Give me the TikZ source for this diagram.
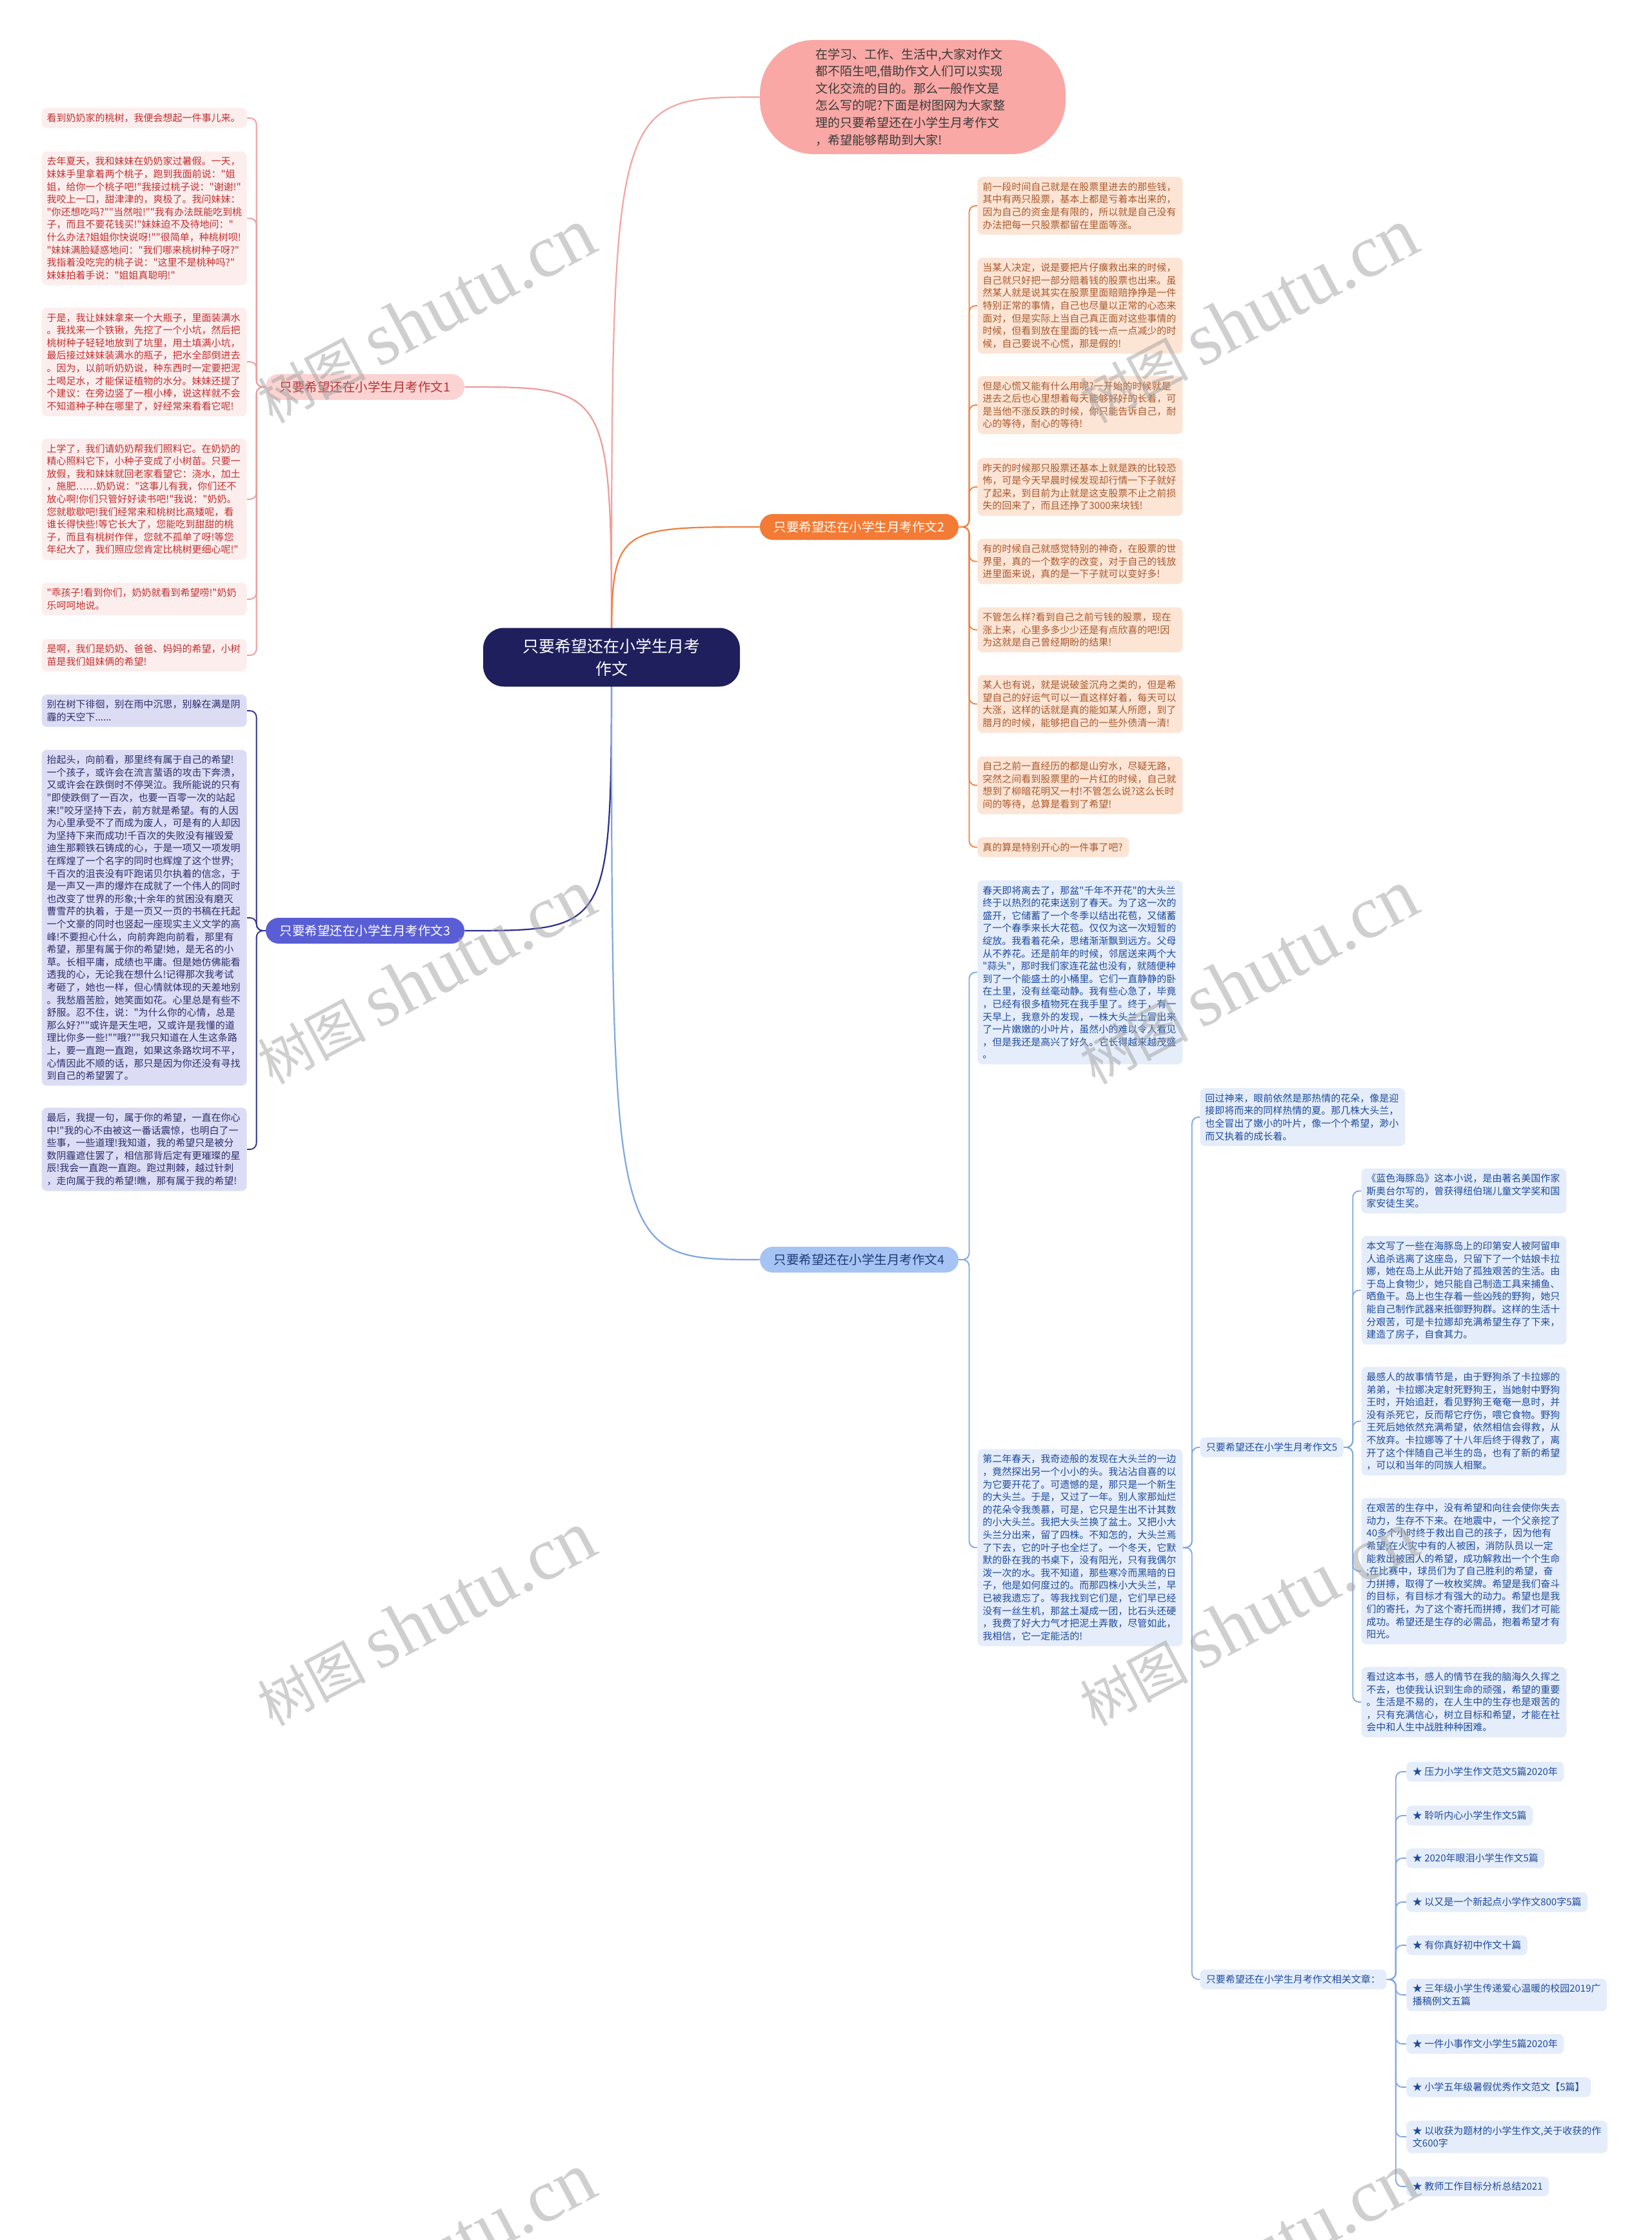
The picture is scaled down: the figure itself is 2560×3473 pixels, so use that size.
\documentclass[tikz,border=0pt]{standalone}
\usepackage{fontspec}
\setmainfont{Noto Sans CJK SC}[Ligatures=TeXOff]
\newfontfamily\wmlatin{Liberation Serif}[Ligatures=TeXOff]
\usetikzlibrary{calc}
\definecolor{rootc}{HTML}{1E1F5C}
\definecolor{introc}{HTML}{F9A8A5}
\definecolor{introtext}{HTML}{3A3A3A}
\definecolor{introline}{HTML}{F4A4A1}
\definecolor{b1fill}{HTML}{FAD3D2}
\definecolor{b1text}{HTML}{B83232}
\definecolor{b1line}{HTML}{EE9B98}
\definecolor{l1fill}{HTML}{FDEEEE}
\definecolor{l1text}{HTML}{C0302E}
\definecolor{b2fill}{HTML}{F47B35}
\definecolor{b2line}{HTML}{EF7F3E}
\definecolor{l2fill}{HTML}{FDE5D6}
\definecolor{l2text}{HTML}{A8592C}
\definecolor{b3fill}{HTML}{5A5ED4}
\definecolor{b3line}{HTML}{2C2E8C}
\definecolor{l3fill}{HTML}{DCDDF5}
\definecolor{l3text}{HTML}{2B2D6B}
\definecolor{b4fill}{HTML}{A6C4F3}
\definecolor{b4text}{HTML}{1D3C78}
\definecolor{b4line}{HTML}{7FA6E2}
\definecolor{l4fill}{HTML}{E5EDFB}
\definecolor{l4text}{HTML}{1E4B9C}
\definecolor{wm}{HTML}{A0A0A0}
\begin{document}
\begin{tikzpicture}[x=0.5pt,y=-0.5pt,
 leaf/.style={rounded corners=4pt,inner xsep=4pt,inner ysep=4.2pt,text width=151pt,align=left,font=\fontsize{7.5}{9.8}\selectfont},
 lpink/.style={leaf,fill=l1fill,text=l1text,anchor=east},
 lorange/.style={leaf,fill=l2fill,text=l2text,anchor=west},
 lviolet/.style={leaf,fill=l3fill,text=l3text,anchor=east},
 lblue/.style={leaf,fill=l4fill,text=l4text,anchor=west},
 tag/.style={rounded corners=4pt,inner xsep=4.75pt,inner ysep=4.2pt,align=left,fill=l4fill,text=l4text,anchor=west,font=\fontsize{7.5}{9.8}\selectfont},
 branch/.style={rounded corners=10pt,minimum width=154pt,minimum height=20pt,inner sep=0pt,font=\fontsize{9.75}{12}\selectfont},
 main/.style={line width=1.1pt},
 twig/.style={line width=0.9pt,rounded corners=5pt},
 wmark/.style={text=wm,text opacity=0.5,rotate=28,font=\fontsize{42}{42}\selectfont}
]
\useasboundingbox (0,0) rectangle (2560,3473);
\fill[white] (0,0) rectangle (2560,3473);

% ---------- intro and branches ----------
\node[fill=introc,text=introtext,rounded corners=42pt,minimum width=237pt,minimum height=88.5pt,text width=151pt,align=left,font=\fontsize{9.5}{13.3}\selectfont] (intro) at (1415,150.5) {在学习、工作、生活中,大家对作文\\都不陌生吧,借助作文人们可以实现\\文化交流的目的。那么一般作文是\\怎么写的呢?下面是树图网为大家整\\理的只要希望还在小学生月考作文\\，希望能够帮助到大家!};
\node[branch,fill=b1fill,text=b1text] (b1) at (566,600) {只要希望还在小学生月考作文1};
\node[branch,fill=b2fill,text=white] (b2) at (1332,817) {只要希望还在小学生月考作文2};
\node[branch,fill=b3fill,text=white] (b3) at (566,1443) {只要希望还在小学生月考作文3};
\node[branch,fill=b4fill,text=b4text] (b4) at (1332,1953) {只要希望还在小学生月考作文4};

\coordinate (rc) at (948,1019);
\draw[main,introline] (rc) .. controls (rc |- intro.west) .. (intro.west);
\draw[main,b1line] (rc) .. controls (rc |- b1.east) .. (b1.east);
\draw[main,b2line] (rc) .. controls (rc |- b2.west) .. (b2.west);
\draw[main,b3line] (rc) .. controls (rc |- b3.east) .. (b3.east);
\draw[main,b4line] (rc) .. controls (rc |- b4.west) .. (b4.west);
\node[fill=rootc,text=white,rounded corners=16pt,minimum width=199pt,minimum height=45.5pt,align=center,font=\fontsize{12.5}{17.5}\selectfont] (root) at (rc) {只要希望还在小学生月考\\作文};

% ---------- branch 1 ----------
\node[lpink] (l1a) at (383,183) {看到奶奶家的桃树，我便会想起一件事儿来。};
\node[lpink] (l1b) at (383,338.5) {去年夏天，我和妹妹在奶奶家过暑假。一天，\\妹妹手里拿着两个桃子，跑到我面前说："姐\\姐，给你一个桃子吧!"我接过桃子说："谢谢!"\\我咬上一口，甜津津的，爽极了。我问妹妹：\\"你还想吃吗?""当然啦!""我有办法既能吃到桃\\子，而且不要花钱买!"妹妹迫不及待地问："\\什么办法?姐姐你快说呀!""很简单，种桃树呗!\\"妹妹满脸疑惑地问："我们哪来桃树种子呀?"\\我指着没吃完的桃子说："这里不是桃种吗?"\\妹妹拍着手说："姐姐真聪明!"};
\node[lpink] (l1c) at (383,561) {于是，我让妹妹拿来一个大瓶子，里面装满水\\。我找来一个铁锹，先挖了一个小坑，然后把\\桃树种子轻轻地放到了坑里，用土填满小坑，\\最后接过妹妹装满水的瓶子，把水全部倒进去\\。因为，以前听奶奶说，种东西时一定要把泥\\土喝足水，才能保证植物的水分。妹妹还提了\\个建议：在旁边竖了一根小棒，说这样就不会\\不知道种子种在哪里了，好经常来看看它呢!};
\node[lpink] (l1d) at (383,774) {上学了，我们请奶奶帮我们照料它。在奶奶的\\精心照料它下，小种子变成了小树苗。只要一\\放假，我和妹妹就回老家看望它：浇水，加土\\，施肥……奶奶说："这事儿有我，你们还不\\放心啊!你们只管好好读书吧!"我说："奶奶。\\您就歇歇吧!我们经常来和桃树比高矮呢，看\\谁长得快些!等它长大了，您能吃到甜甜的桃\\子，而且有桃树作伴，您就不孤单了呀!等您\\年纪大了，我们照应您肯定比桃树更细心呢!"};
\node[lpink] (l1e) at (383,929) {"乖孩子!看到你们，奶奶就看到希望唠!"奶奶\\乐呵呵地说。};
\node[lpink] (l1f) at (383,1016) {是啊，我们是奶奶、爸爸、妈妈的希望，小树\\苗是我们姐妹俩的希望!};
\foreach \n in {l1a,l1b,l1c,l1d,l1e,l1f} \draw[twig,b1line] (b1.west) -- ++(-14,0) |- (\n.east);

% ---------- branch 3 ----------
\node[lviolet] (l3a) at (383,1102) {别在树下徘徊，别在雨中沉思，别躲在满是阴\\霾的天空下......};
\node[lviolet] (l3b) at (383,1423) {抬起头，向前看，那里终有属于自己的希望!\\一个孩子，或许会在流言蜚语的攻击下奔溃，\\又或许会在跌倒时不停哭泣。我所能说的只有\\"即使跌倒了一百次，也要一百零一次的站起\\来!"咬牙坚持下去，前方就是希望。有的人因\\为心里承受不了而成为废人，可是有的人却因\\为坚持下来而成功!千百次的失败没有摧毁爱\\迪生那颗铁石铸成的心，于是一项又一项发明\\在辉煌了一个名字的同时也辉煌了这个世界;\\千百次的沮丧没有吓跑诺贝尔执着的信念，于\\是一声又一声的爆炸在成就了一个伟人的同时\\也改变了世界的形象;十余年的贫困没有磨灭\\曹雪芹的执着，于是一页又一页的书稿在托起\\一个文豪的同时也竖起一座现实主义文学的高\\峰!不要担心什么，向前奔跑向前看，那里有\\希望，那里有属于你的希望!她，是无名的小\\草。长相平庸，成绩也平庸。但是她仿佛能看\\透我的心，无论我在想什么!记得那次我考试\\考砸了，她也一样，但心情就体现的天差地别\\。我愁眉苦脸，她笑面如花。心里总是有些不\\舒服。忍不住，说："为什么你的心情，总是\\那么好?""或许是天生吧，又或许是我懂的道\\理比你多一些!""哦?""我只知道在人生这条路\\上，要一直跑一直跑，如果这条路坎坷不平，\\心情因此不顺的话，那只是因为你还没有寻找\\到自己的希望罢了。};
\node[lviolet] (l3c) at (383,1782) {最后，我提一句，属于你的希望，一直在你心\\中!"我的心不由被这一番话震惊，也明白了一\\些事，一些道理!我知道，我的希望只是被分\\数阴霾遮住罢了，相信那背后定有更璀璨的星\\辰!我会一直跑一直跑。跑过荆棘，越过针刺\\，走向属于我的希望!瞧，那有属于我的希望!};
\foreach \n in {l3a,l3b,l3c} \draw[twig,b3line] (b3.west) -- ++(-14,0) |- (\n.east);

% ---------- branch 2 ----------
\node[lorange] (l2a) at (1515,319) {前一段时间自己就是在股票里进去的那些钱，\\其中有两只股票，基本上都是亏着本出来的，\\因为自己的资金是有限的，所以就是自己没有\\办法把每一只股票都留在里面等涨。};
\node[lorange] (l2b) at (1515,474) {当某人决定，说是要把片仔癀救出来的时候，\\自己就只好把一部分赔着钱的股票也出来。虽\\然某人就是说其实在股票里面赔赔挣挣是一件\\特别正常的事情，自己也尽量以正常的心态来\\面对，但是实际上当自己真正面对这些事情的\\时候，但看到放在里面的钱一点一点减少的时\\候，自己要说不心慌，那是假的!};
\node[lorange] (l2c) at (1515,628) {但是心慌又能有什么用呢?一开始的时候就是\\进去之后也心里想着每天能够好好的长着，可\\是当他不涨反跌的时候，你只能告诉自己，耐\\心的等待，耐心的等待!};
\node[lorange] (l2d) at (1515,755) {昨天的时候那只股票还基本上就是跌的比较恐\\怖，可是今天早晨时候发现却行情一下子就好\\了起来，到目前为止就是这支股票不止之前损\\失的回来了，而且还挣了3000来块钱!};
\node[lorange] (l2e) at (1515,870.5) {有的时候自己就感觉特别的神奇，在股票的世\\界里，真的一个数字的改变，对于自己的钱放\\进里面来说，真的是一下子就可以变好多!};
\node[lorange] (l2f) at (1515,976.5) {不管怎么样?看到自己之前亏钱的股票，现在\\涨上来，心里多多少少还是有点欣喜的吧!因\\为这就是自己曾经期盼的结果!};
\node[lorange] (l2g) at (1515,1091.5) {某人也有说，就是说破釜沉舟之类的，但是希\\望自己的好运气可以一直这样好着，每天可以\\大涨，这样的话就是真的能如某人所愿，到了\\腊月的时候，能够把自己的一些外债清一清!};
\node[lorange] (l2h) at (1515,1217.5) {自己之前一直经历的都是山穷水，尽疑无路，\\突然之间看到股票里的一片红的时候，自己就\\想到了柳暗花明又一村!不管怎么说?这么长时\\间的等待，总算是看到了希望!};
\node[lorange,text width=109.5pt] (l2i) at (1515,1313.5) {真的算是特别开心的一件事了吧?};
\foreach \n in {l2a,l2b,l2c,l2d,l2e,l2f,l2g,l2h,l2i} \draw[twig,b2line] (b2.east) -- ++(16,0) |- (\n.west);

% ---------- branch 4 ----------
\node[lblue] (l4a) at (1515,1507.5) {春天即将离去了，那盆"千年不开花"的大头兰\\终于以热烈的花束送别了春天。为了这一次的\\盛开，它储蓄了一个冬季以结出花苞，又储蓄\\了一个春季来长大花苞。仅仅为这一次短暂的\\绽放。我看着花朵，思绪渐渐飘到远方。父母\\从不养花。还是前年的时候，邻居送来两个大\\"蒜头"，那时我们家连花盆也没有，就随便种\\到了一个能盛土的小桶里。它们一直静静的卧\\在土里，没有丝毫动静。我有些心急了，毕竟\\，已经有很多植物死在我手里了。终于，有一\\天早上，我意外的发现，一株大头兰上冒出来\\了一片嫩嫩的小叶片，虽然小的难以令人看见\\，但是我还是高兴了好久。它长得越来越茂盛\\。};
\node[lblue] (l4b) at (1515,2399.5) {第二年春天，我奇迹般的发现在大头兰的一边\\，竟然探出另一个小小的头。我沾沾自喜的以\\为它要开花了。可遗憾的是，那只是一个新生\\的大头兰。于是，又过了一年。别人家那灿烂\\的花朵令我羡慕，可是，它只是生出不计其数\\的小大头兰。我把大头兰换了盆土。又把小大\\头兰分出来，留了四株。不知怎的，大头兰焉\\了下去，它的叶子也全烂了。一个冬天，它默\\默的卧在我的书桌下，没有阳光，只有我偶尔\\泼一次的水。我不知道，那些寒冷而黑暗的日\\子，他是如何度过的。而那四株小大头兰，早\\已被我遗忘了。等我找到它们是，它们早已经\\没有一丝生机，那盆土凝成一团，比石头还硬\\，我费了好大力气才把泥土弄散，尽管如此，\\我相信，它一定能活的!};
\foreach \n in {l4a,l4b} \draw[twig,b4line] (b4.east) -- ++(16,0) |- (\n.west);

\node[lblue] (l4c) at (1860,1732) {回过神来，眼前依然是那热情的花朵，像是迎\\接即将而来的同样热情的夏。那几株大头兰，\\也全冒出了嫩小的叶片，像一个个希望，渺小\\而又执着的成长着。};
\node[tag] (b5) at (1860,2244) {只要希望还在小学生月考作文5};
\node[tag] (rel) at (1860,3069) {只要希望还在小学生月考作文相关文章：};
\foreach \n in {l4c,b5,rel} \draw[twig,b4line] (l4b.east) -- ++(14,0) |- (\n.west);

% ---------- branch 5 ----------
\node[lblue] (l5a) at (2110,1846.5) {《蓝色海豚岛》这本小说，是由著名美国作家\\斯奥台尔写的，曾获得纽伯瑞儿童文学奖和国\\家安徒生奖。};
\node[lblue] (l5b) at (2110,2000.5) {本文写了一些在海豚岛上的印第安人被阿留申\\人追杀逃离了这座岛，只留下了一个姑娘卡拉\\娜，她在岛上从此开始了孤独艰苦的生活。由\\于岛上食物少，她只能自己制造工具来捕鱼、\\晒鱼干。岛上也生存着一些凶残的野狗，她只\\能自己制作武器来抵御野狗群。这样的生活十\\分艰苦，可是卡拉娜却充满希望生存了下来，\\建造了房子，自食其力。};
\node[lblue] (l5c) at (2110,2203.5) {最感人的故事情节是，由于野狗杀了卡拉娜的\\弟弟，卡拉娜决定射死野狗王，当她射中野狗\\王时，开始追赶，看见野狗王奄奄一息时，并\\没有杀死它，反而帮它疗伤，喂它食物。野狗\\王死后她依然充满希望，依然相信会得救，从\\不放弃。卡拉娜等了十八年后终于得救了，离\\开了这个伴随自己半生的岛，也有了新的希望\\，可以和当年的同族人相聚。};
\node[lblue] (l5d) at (2110,2436) {在艰苦的生存中，没有希望和向往会使你失去\\动力，生存不下来。在地震中，一个父亲挖了\\40多个小时终于救出自己的孩子，因为他有\\希望;在火灾中有的人被困，消防队员以一定\\能救出被困人的希望，成功解救出一个个生命\\;在比赛中，球员们为了自己胜利的希望，奋\\力拼搏，取得了一枚枚奖牌。希望是我们奋斗\\的目标，有目标才有强大的动力。希望也是我\\们的寄托，为了这个寄托而拼搏，我们才可能\\成功。希望还是生存的必需品，抱着希望才有\\阳光。};
\node[lblue] (l5e) at (2110,2639) {看过这本书，感人的情节在我的脑海久久挥之\\不去，也使我认识到生命的顽强，希望的重要\\。生活是不易的，在人生中的生存也是艰苦的\\，只有充满信心，树立目标和希望，才能在社\\会中和人生中战胜种种困难。};
\foreach \n in {l5a,l5b,l5c,l5d,l5e} \draw[twig,b4line] (b5.east) -- ++(14,0) |- (\n.west);

% ---------- related ----------
\node[tag] (r1) at (2180,2747) {★ 压力小学生作文范文5篇2020年};
\node[tag] (r2) at (2180,2815) {★ 聆听内心小学生作文5篇};
\node[tag] (r3) at (2180,2881) {★ 2020年眼泪小学生作文5篇};
\node[tag] (r4) at (2180,2949) {★ 以又是一个新起点小学作文800字5篇};
\node[tag] (r5) at (2180,3016) {★ 有你真好初中作文十篇};
\node[tag] (r6) at (2180,3093) {★ 三年级小学生传递爱心温暖的校园2019广\\播稿例文五篇};
\node[tag] (r7) at (2180,3169) {★ 一件小事作文小学生5篇2020年};
\node[tag] (r8) at (2180,3236) {★ 小学五年级暑假优秀作文范文【5篇】};
\node[tag] (r9) at (2180,3313) {★ 以收获为题材的小学生作文,关于收获的作\\文600字};
\node[tag] (r10) at (2180,3390) {★ 教师工作目标分析总结2021};
\foreach \n in {r1,r2,r3,r4,r5,r6,r7,r8,r9,r10} \draw[twig,b4line] (rel.east) -- ++(14,0) |- (\n.west);

% ---------- watermarks ----------
\foreach \wx/\wy [count=\i] in {660/490,1935/490,660/1515,1935/1515,660/2510,1935/2510,660/3505,1935/3505}
  \node[wmark] (wm\i) at (\wx,\wy) {树图 {\wmlatin\fontsize{58}{58}\selectfont shutu.cn}};
\end{tikzpicture}
\end{document}
